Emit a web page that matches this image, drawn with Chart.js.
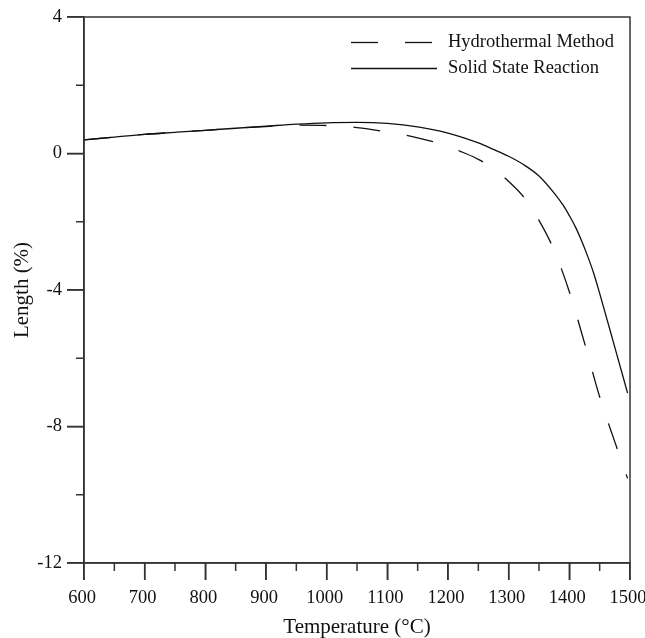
<!DOCTYPE html>
<html>
<head>
<meta charset="utf-8">
<script src="https://cdn.jsdelivr.net/npm/chart.js@4/dist/chart.umd.min.js"></script>
<style>
  html, body { margin: 0; padding: 0; background: #fff; }
  #wrap { width: 645px; height: 638px; }
</style>
</head>
<body>
<div id="wrap"><canvas id="lengthChart"></canvas></div>
<script>
// temperatures (°C), one list per curve
const hydroTemps = [600, 650, 700, 750, 800, 850, 900, 950, 1000, 1050, 1100, 1150, 1200, 1225, 1250, 1275, 1300, 1325, 1350, 1375, 1400, 1425, 1450, 1475, 1496];
const hydrothermal = [0.40, 0.48, 0.56, 0.62, 0.68, 0.74, 0.79, 0.83, 0.82, 0.76, 0.63, 0.46, 0.21, 0.03, -0.17, -0.44, -0.82, -1.28, -1.96, -2.84, -4.05, -5.55, -7.13, -8.45, -9.52];

const solidTemps = [600, 650, 700, 750, 800, 850, 900, 950, 1000, 1050, 1100, 1150, 1200, 1250, 1275, 1300, 1325, 1350, 1375, 1390, 1400, 1410, 1420, 1430, 1440, 1450, 1475, 1496];
const solidState = [0.40, 0.48, 0.56, 0.62, 0.68, 0.74, 0.80, 0.86, 0.90, 0.91, 0.88, 0.78, 0.60, 0.31, 0.12, -0.08, -0.33, -0.66, -1.16, -1.52, -1.82, -2.15, -2.55, -3.00, -3.50, -4.10, -5.68, -7.02];

const xMajorTicks = [600, 700, 800, 900, 1000, 1100, 1200, 1300, 1400, 1500];
const xMinorTicks = [650, 750, 850, 950, 1050, 1150, 1250, 1350, 1450];
const yMajorTicks = [4, 0, -4, -8, -12];
const yMinorTicks = [2, -2, -6, -10];

const seriesNames = ["Hydrothermal Method", "Solid State Reaction"];

const ink = "#111";
const axisInk = "#333";
const serif = "'Liberation Serif', 'Times New Roman', serif";

function toPoints(ts, vals) {
  return ts.map((t, i) => ({ x: t, y: vals[i] }));
}

// frame, tick marks and the inside legend
const framePlugin = {
  id: "frame",
  afterDraw(chart) {
    const { ctx, chartArea } = chart;
    const xs = chart.scales.x;
    const ys = chart.scales.y;
    ctx.save();
    ctx.strokeStyle = axisInk;
    ctx.lineWidth = 1.5;
    ctx.strokeRect(chartArea.left, chartArea.top, chartArea.right - chartArea.left, chartArea.bottom - chartArea.top);

    ctx.beginPath();
    xMajorTicks.forEach((t) => {
      const px = xs.getPixelForValue(t);
      ctx.moveTo(px, chartArea.bottom);
      ctx.lineTo(px, chartArea.bottom + 17);
    });
    xMinorTicks.forEach((t) => {
      const px = xs.getPixelForValue(t);
      ctx.moveTo(px, chartArea.bottom);
      ctx.lineTo(px, chartArea.bottom + 8);
    });
    yMajorTicks.forEach((v) => {
      const py = ys.getPixelForValue(v);
      ctx.moveTo(chartArea.left - 17, py);
      ctx.lineTo(chartArea.left, py);
    });
    yMinorTicks.forEach((v) => {
      const py = ys.getPixelForValue(v);
      ctx.moveTo(chartArea.left - 8, py);
      ctx.lineTo(chartArea.left, py);
    });
    ctx.stroke();

    // legend
    const x0 = chartArea.right - 279;
    const x1 = chartArea.right - 193;
    ctx.font = "18.5px " + serif;
    ctx.textBaseline = "middle";
    ctx.fillStyle = ink;
    chart.data.datasets.forEach((ds, i) => {
      const y = chartArea.top + 25 + i * 26;
      ctx.strokeStyle = ink;
      ctx.lineWidth = 1.3;
      ctx.setLineDash(ds.borderDash || []);
      ctx.beginPath();
      ctx.moveTo(x0, y + 0.5);
      ctx.lineTo(x1, y + 0.5);
      ctx.stroke();
      ctx.setLineDash([]);
      ctx.fillText(ds.label, chartArea.right - 182, y);
    });
    ctx.restore();
  }
};

const lengthConfig = {
  type: "line",
  data: {
    datasets: [
      {
        label: seriesNames[0],
        data: toPoints(hydroTemps, hydrothermal),
        borderColor: ink,
        borderWidth: 1.3,
        borderDash: [27, 27],
        pointRadius: 0,
        fill: false,
        cubicInterpolationMode: "monotone"
      },
      {
        label: seriesNames[1],
        data: toPoints(solidTemps, solidState),
        borderColor: ink,
        borderWidth: 1.3,
        pointRadius: 0,
        fill: false,
        cubicInterpolationMode: "monotone"
      }
    ]
  },
  options: {
    responsive: true,
    maintainAspectRatio: false,
    animation: false,
    layout: { padding: { top: 17, right: 15, left: 0, bottom: 0 } },
    plugins: {
      legend: { display: false },
      tooltip: { enabled: false }
    },
    scales: {
      x: {
        type: "linear",
        min: 600,
        max: 1500,
        grid: { drawOnChartArea: false, tickLength: 17, color: axisInk, lineWidth: 1.5 },
        border: { color: axisInk, width: 1.5 },
        ticks: {
          stepSize: 100,
          padding: 7,
          labelOffset: -2,
          maxRotation: 0,
          color: ink,
          font: { family: serif, size: 18.5 },
          callback: (v) => String(v)
        },
        title: {
          display: true,
          text: "Temperature (°C)",
          color: ink,
          padding: { top: 0, bottom: -2 },
          font: { family: serif, size: 21 }
        },
        afterFit(scale) {
          scale.height = 75;
          scale.paddingLeft = 0;
          scale.paddingRight = 0;
        }
      },
      y: {
        min: -12,
        max: 4,
        grid: { drawOnChartArea: false, tickLength: 17, color: axisInk, lineWidth: 1.5 },
        border: { color: axisInk, width: 1.5 },
        ticks: {
          stepSize: 4,
          padding: 5,
          color: ink,
          font: { family: serif, size: 18.5 },
          callback: (v) => String(v)
        },
        title: {
          display: true,
          text: "Length (%)",
          color: ink,
          padding: { top: 10, bottom: 0 },
          font: { family: serif, size: 21 }
        },
        afterFit(scale) {
          scale.width = 84;
          scale.paddingTop = 0;
          scale.paddingBottom = 0;
        }
      }
    }
  },
  plugins: [framePlugin]
};

const lengthChart = new Chart(document.getElementById("lengthChart"), lengthConfig);
</script>
</body>
</html>
